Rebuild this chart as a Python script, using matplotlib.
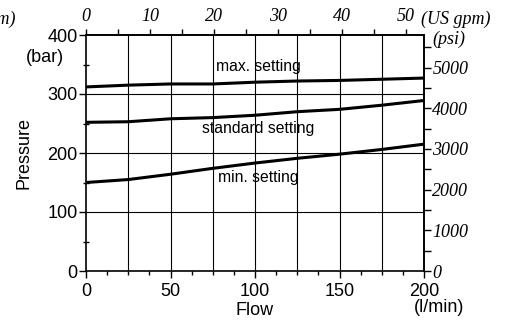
import matplotlib
matplotlib.use("Agg")
import matplotlib.pyplot as plt
from matplotlib.ticker import MultipleLocator

# flow (l/min) and pressure (bar)
flow = [0, 25, 50, 75, 100, 125, 150, 175, 200]
max_setting = [312, 315, 317, 317, 320, 322, 323, 325, 327]
std_setting = [252, 253, 258, 260, 264, 270, 274, 281, 289]
min_setting = [150, 155, 164, 174, 183, 191, 198, 206, 215]

curve_labels = ["max. setting", "standard setting", "min. setting"]
label_pos = [(102, 347), (102, 241), (102, 158)]

LPM_PER_GPM = 3.785
PSI_PER_BAR = 14.5038

plt.rcParams['font.family'] = ['Liberation Sans', 'DejaVu Sans']
SANS = 13
SERIF = 13
serif = dict(family='Liberation Serif', style='italic', size=SERIF)

fig = plt.figure(figsize=(5.14, 3.2), dpi=100)
W, H = 514, 320
ax = fig.add_axes([86 / W, 1 - 271 / H, (424 - 86) / W, (271 - 35) / H])

for y in [max_setting, std_setting, min_setting]:
    ax.plot(flow, y, color='black', lw=2.2, solid_capstyle='butt', zorder=3)
for lab, (x, y) in zip(curve_labels, label_pos):
    ax.text(x, y, lab, ha='center', va='center', fontsize=11.3, zorder=4)

ax.set_xlim(0, 200)
ax.set_ylim(0, 400)
ax.xaxis.set_major_locator(MultipleLocator(50))
ax.xaxis.set_minor_locator(MultipleLocator(12.5))
ax.yaxis.set_major_locator(MultipleLocator(100))
ax.yaxis.set_minor_locator(MultipleLocator(50))

# grid: verticals every 25 l/min, horizontals every 100 bar
for x in range(25, 200, 25):
    ax.axvline(x, color='black', lw=0.8, zorder=1)
for y in (100, 200, 300):
    ax.axhline(y, color='black', lw=0.8, zorder=1)

for s in ax.spines.values():
    s.set_linewidth(1.2)
ax.tick_params(which='major', direction='out', length=5, width=1, labelsize=SANS, pad=1)
ax.tick_params(axis='x', which='major', pad=4)
ax.tick_params(axis='y', which='minor', direction='inout', length=5, width=1)
ax.tick_params(axis='x', which='minor', direction='out', length=3, width=1)
ax.set_xlabel('Flow', fontsize=SANS, labelpad=1)
ax.set_ylabel('Pressure', fontsize=SANS, labelpad=11)

# top axis in US gpm
top = ax.secondary_xaxis('top', functions=(lambda q: q / LPM_PER_GPM, lambda g: g * LPM_PER_GPM))
top.xaxis.set_major_locator(MultipleLocator(10))
top.xaxis.set_minor_locator(MultipleLocator(5))
top.tick_params(which='major', direction='out', length=4, width=1, pad=3, labelsize=SERIF)
top.tick_params(which='minor', direction='out', length=4, width=1)
top.spines['top'].set_linewidth(1.2)
top.xaxis.set_major_formatter(lambda v, p: f"{v:.0f}")
for t in top.get_xticklabels():
    t.set_family('Liberation Serif')
    t.set_style('italic')
    t.set_fontsize(SERIF)

# right axis in psi
right = ax.secondary_yaxis('right', functions=(lambda b: b * PSI_PER_BAR, lambda p: p / PSI_PER_BAR))
right.yaxis.set_major_locator(MultipleLocator(1000))
right.yaxis.set_minor_locator(MultipleLocator(500))
right.tick_params(which='major', direction='out', length=5, width=1, pad=1, labelsize=SERIF)
right.tick_params(which='minor', direction='out', length=5, width=1)
right.spines['right'].set_linewidth(1.2)
right.yaxis.set_major_formatter(lambda v, p: f"{v:.0f}")
for t in right.get_yticklabels():
    t.set_family('Liberation Serif')
    t.set_style('italic')
    t.set_fontsize(SERIF)

# unit labels
fig.text(421 / W, 1 - 19 / H, '(US gpm)', ha='left', va='center', **serif)
fig.text(15 / W, 1 - 19 / H, '(US gpm)', ha='right', va='center', **serif)
fig.text(432 / W, 1 - 39 / H, '(psi)', ha='left', va='center', **serif)
fig.text(45 / W, 1 - 57 / H, '(bar)', ha='center', va='center', fontsize=SANS)
fig.text(439 / W, 1 - 307 / H, '(l/min)', ha='center', va='center', fontsize=SANS)

fig.savefig('out.png', dpi=100)
